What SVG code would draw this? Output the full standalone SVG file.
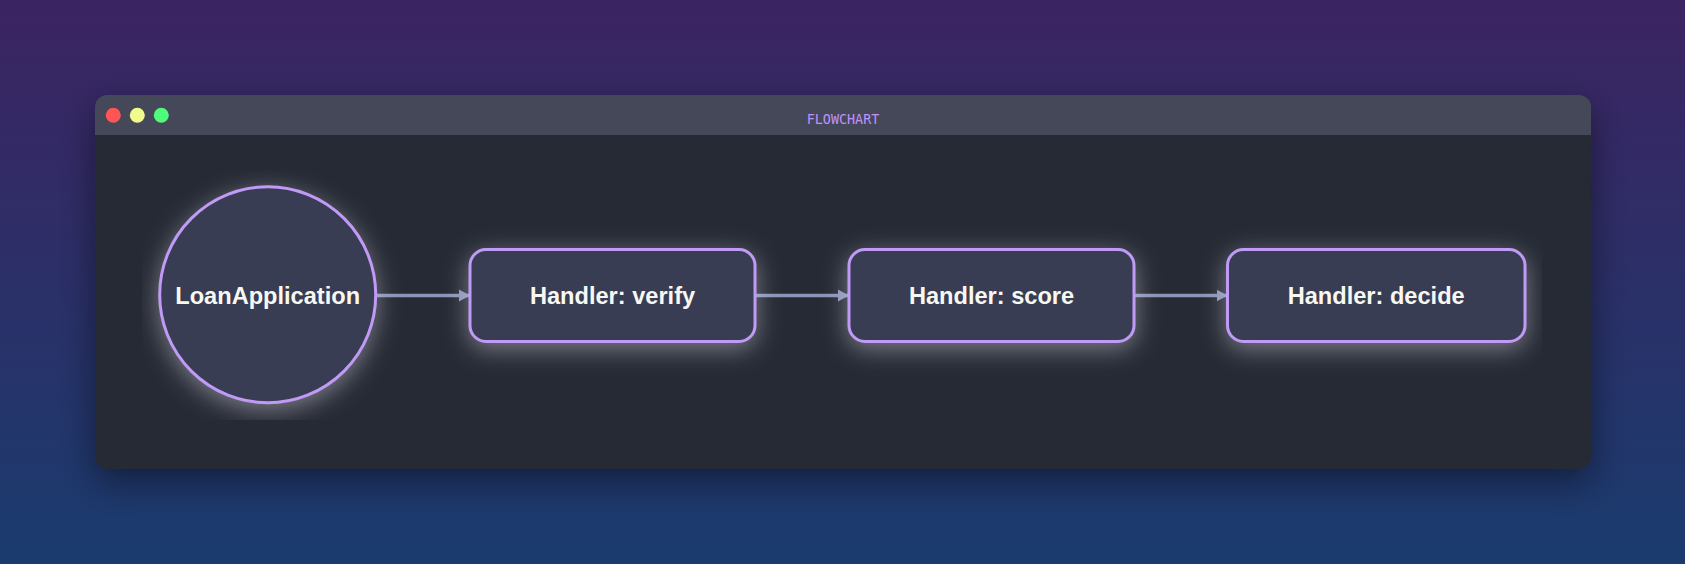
<svg xmlns="http://www.w3.org/2000/svg" width="1685" height="564" viewBox="0 0 1685 564">
  <defs>
    <linearGradient id="bg" x1="0" y1="0" x2="0" y2="1">
      <stop offset="0" stop-color="#3c2462"/>
      <stop offset="1" stop-color="#1a3b6e"/>
    </linearGradient>
    <filter id="winShadow" x="-10%" y="-20%" width="120%" height="150%">
      <feDropShadow dx="0" dy="12" stdDeviation="18" flood-color="#000000" flood-opacity="0.45"/>
    </filter>
    <filter id="glow" filterUnits="userSpaceOnUse" x="142" y="170" width="1400" height="250">
      <feDropShadow dx="0" dy="6" stdDeviation="12" flood-color="#eeeef4" flood-opacity="0.42"/>
    </filter>
    <clipPath id="winClip">
      <rect x="95" y="95" width="1496" height="374" rx="12"/>
    </clipPath>
    <marker id="arrow" markerUnits="userSpaceOnUse" markerWidth="12" markerHeight="14" refX="11" refY="7" orient="auto">
      <path d="M0,1 L11,7 L0,13 Z" fill="#8b93b8"/>
    </marker>
    <style>
      .node { fill: #373c52; stroke: #c09af6; stroke-width: 3; filter: url(#glow); }
      .label { font-family: "Liberation Sans", Arial, sans-serif; font-weight: bold; font-size: 23.6px; fill: #f8f8f2; text-anchor: middle; }
      .edge { stroke: #8b93b8; stroke-width: 3.4; fill: none; marker-end: url(#arrow); }
      .title { font-family: "DejaVu Sans Mono", "Liberation Mono", monospace; font-size: 13.4px; fill: #bd93f9; text-anchor: middle; }
    </style>
  </defs>

  <rect x="0" y="0" width="1685" height="564" fill="url(#bg)"/>

  <g id="window">
    <rect x="95" y="95" width="1496" height="374" rx="12" fill="#282a36" filter="url(#winShadow)"/>
    <g clip-path="url(#winClip)">
      <rect x="95" y="95" width="1496" height="40" fill="#454859"/>
    </g>
    <circle cx="113.3" cy="115.3" r="7.5" fill="#ff5555"/>
    <circle cx="137.3" cy="115.3" r="7.5" fill="#f1fa8c"/>
    <circle cx="161.3" cy="115.3" r="7.5" fill="#50fa7b"/>
    <text class="title" x="843" y="124">FLOWCHART</text>
  </g>

  <g id="connectors">
    <line class="edge" x1="376" y1="295.5" x2="470" y2="295.5"/>
    <line class="edge" x1="755" y1="295.5" x2="849" y2="295.5"/>
    <line class="edge" x1="1134" y1="295.5" x2="1227.5" y2="295.5"/>
  </g>

  <g id="node-loanapplication">
    <circle class="node" cx="267.7" cy="294.7" r="108"/>
    <text class="label" x="267.7" y="304">LoanApplication</text>
  </g>

  <g id="node-verify">
    <rect class="node" x="470" y="249.5" width="285" height="92" rx="16"/>
    <text class="label" x="612.5" y="303.5">Handler: verify</text>
  </g>

  <g id="node-score">
    <rect class="node" x="849" y="249.5" width="285" height="92" rx="16"/>
    <text class="label" x="991.5" y="303.5">Handler: score</text>
  </g>

  <g id="node-decide">
    <rect class="node" x="1227.5" y="249.5" width="297.5" height="92" rx="16"/>
    <text class="label" x="1376.2" y="303.5">Handler: decide</text>
  </g>
</svg>
